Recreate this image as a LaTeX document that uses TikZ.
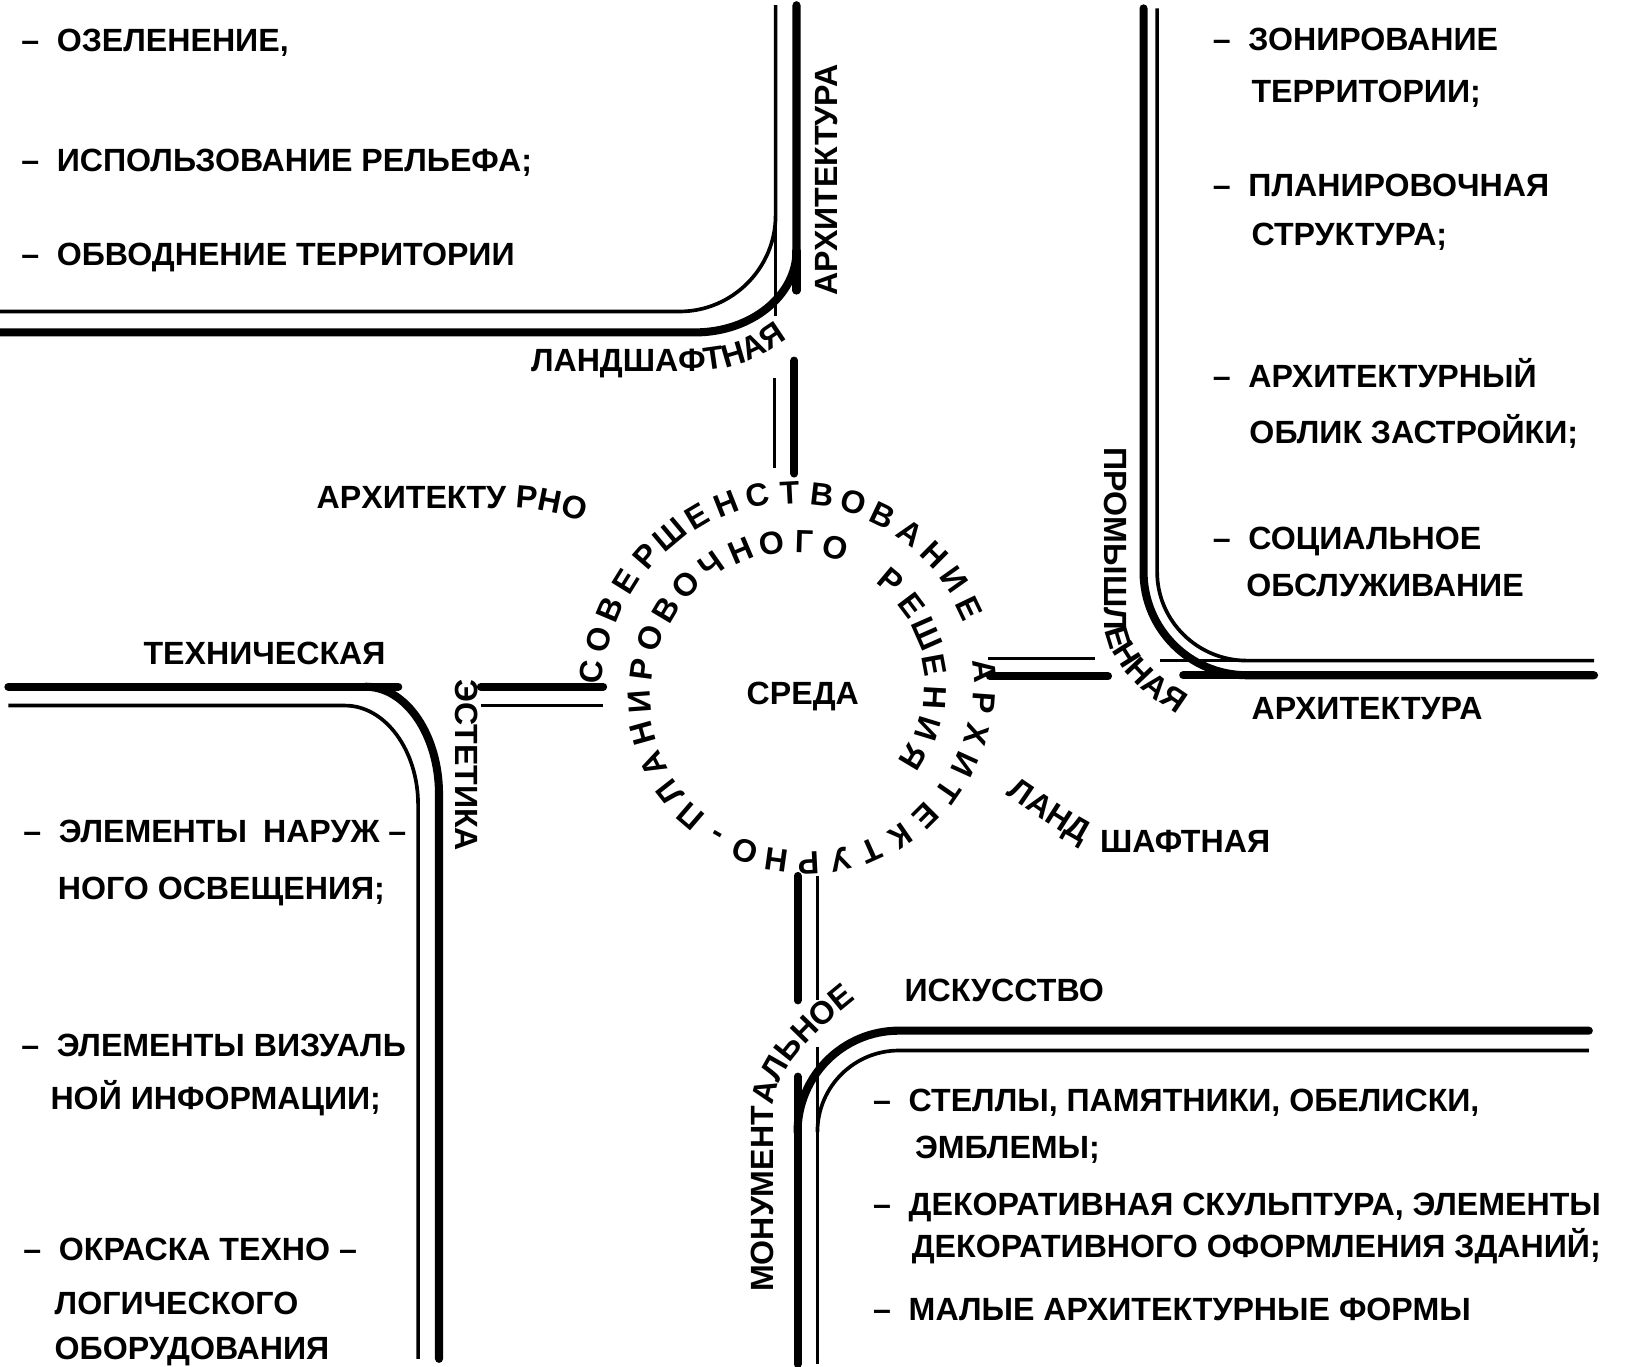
\documentclass[tikz,border=0pt]{standalone}
\usepackage{fontspec}
\setmainfont{Liberation Sans}
\usetikzlibrary{decorations.text}
\newcommand\lblfont{\bfseries\fontsize{17.5}{20}\selectfont}
\newcommand\dsh{–\hspace{0.55em}}
\begin{document}
\begin{tikzpicture}[x=0.02cm,y=-0.02cm,
  lbl/.style={font=\lblfont, inner sep=0pt, anchor=base west},
  rot/.style={font=\lblfont, inner sep=0pt, text height=0.44cm, text depth=0pt},
  thinln/.style={line width=2pt},
  thickln/.style={line width=4.4pt, line cap=round},
  curvtext/.style={decorate, decoration={text along path, text align=left}}]
\useasboundingbox[fill=white] (0,0) rectangle (1568,1307);

% ---------- top-left corner ----------
\draw[thinln] (0,298) -- (650,298) .. controls (700.6,298) and (742,256.6) .. (742,206) -- (742,5);
\draw[thinln] (742,206) -- (742,302);
\draw[thickln] (0,318) -- (665,318) .. controls (718.4,318) and (762,282.9) .. (762,240) -- (762,5);
\draw[thickln] (762,240) -- (762,278);
% stub to circle (top)
\draw[thinln] (741,362) -- (741,448);
\draw[thickln] (760,345) -- (760,453);

% ---------- top-right corner ----------
\draw[thickln] (1094,8) -- (1094,547) .. controls (1094,601.7) and (1138.3,646) .. (1193,646) -- (1525,646);
\draw[thinln] (1107,8) -- (1107,547) .. controls (1107,593.9) and (1145.5,632) .. (1193,632) -- (1525,632);
\draw[thinln] (1110,632) -- (1193,632);
\draw[thickln] (1132,646) -- (1193,646);
% stub to circle (right)
\draw[thinln] (945,630) -- (1048,630);
\draw[thickln] (947,647) -- (1060,647);

% ---------- left corner ----------
\draw[thickln] (8,657) -- (381,657);
\draw[thickln] (350,657) .. controls (388.5,657) and (420,703.4) .. (420,760) -- (420,1300);
\draw[thinln] (8,675) -- (330,675) .. controls (368.5,675) and (400,717.8) .. (400,770) -- (400,1300);
% stub to circle (left)
\draw[thickln] (460,657) -- (577,657);
\draw[thinln] (460,675) -- (577,675);

% ---------- bottom corner ----------
\draw[thickln] (763,838) -- (763,957);
\draw[thinln] (782,838) -- (782,957);
\draw[thickln] (763,1305) -- (763,1030);
\draw[thickln] (763,1083) .. controls (763,1029.4) and (806.4,986) .. (860,986) -- (1520,986);
\draw[thinln] (782,1305) -- (782,1002);
\draw[thinln] (782,1083) .. controls (782,1039.9) and (816.9,1005) .. (860,1005) -- (1520,1005);

% ---------- top-left texts ----------
\node[lbl] (t1) at (20,49) {\dsh ОЗЕЛЕНЕНИЕ,};
\node[lbl] (t2) at (20,164) {\dsh ИСПОЛЬЗОВАНИЕ РЕЛЬЕФА;};
\node[lbl] (t3) at (20,254) {\dsh ОБВОДНЕНИЕ ТЕРРИТОРИИ};

% ---------- top-right texts ----------
\node[lbl] (r1) at (1160,48) {\dsh ЗОНИРОВАНИЕ};
\node[lbl] (r1b) at (1197,98) {ТЕРРИТОРИИ;};
\node[lbl] (r2) at (1160,188) {\dsh ПЛАНИРОВОЧНАЯ};
\node[lbl] (r2b) at (1197,235) {СТРУКТУРА;};
\node[lbl] (r3) at (1160,371) {\dsh АРХИТЕКТУРНЫЙ};
\node[lbl] (r3b) at (1195,424) {ОБЛИК ЗАСТРОЙКИ;};
\node[lbl] (r4) at (1160,526) {\dsh СОЦИАЛЬНОЕ};
\node[lbl] (r4b) at (1192,571) {ОБСЛУЖИВАНИЕ};
\node[lbl] (r5) at (1197,688) {АРХИТЕКТУРА};

% ---------- left texts ----------
\node[lbl] (tech) at (137,636) {ТЕХНИЧЕСКАЯ};
\node[lbl] (l1) at (22,806) {\dsh ЭЛЕМЕНТЫ\enspace НАРУЖ –};
\node[lbl] (l1b) at (55,861) {НОГО ОСВЕЩЕНИЯ;};
\node[lbl] (l2) at (20,1011) {\dsh ЭЛЕМЕНТЫ ВИЗУАЛЬ};
\node[lbl] (l2b) at (48,1061) {НОЙ ИНФОРМАЦИИ;};
\node[lbl] (l3) at (22,1206) {\dsh ОКРАСКА ТЕХНО –};
\node[lbl] (l3b) at (52,1258) {ЛОГИЧЕСКОГО};
\node[lbl] (l3c) at (52,1301) {ОБОРУДОВАНИЯ};

% ---------- bottom-right texts ----------
\node[lbl] (isk) at (865,958) {ИСКУССТВО};
\node[lbl] (b1) at (835,1063) {\dsh СТЕЛЛЫ, ПАМЯТНИКИ, ОБЕЛИСКИ,};
\node[lbl] (b1b) at (875,1108) {ЭМБЛЕМЫ;};
\node[lbl] (b2) at (835,1163) {\dsh ДЕКОРАТИВНАЯ СКУЛЬПТУРА, ЭЛЕМЕНТЫ};
\node[lbl] (b2b) at (872,1203) {ДЕКОРАТИВНОГО ОФОРМЛЕНИЯ ЗДАНИЙ;};
\node[lbl] (b3) at (835,1263) {\dsh МАЛЫЕ АРХИТЕКТУРНЫЕ ФОРМЫ};

% ---------- rotated labels ----------
\node[rot, rotate=90] (arch1) at (790,172) {АРХИТЕКТУРА};
\node[rot, rotate=-90] (est) at (447,732) {ЭСТЕТИКА};
\node[lbl, anchor=base] (sreda) at (768,674) {СРЕДА};

% ---------- curved labels ----------
\path[curvtext, decoration={text={|\lblfont|АРХИТЕКТУ РНО}}]
  (303,486) -- (488,486) .. controls (515,486) and (545,492) .. (585,510);
\path[curvtext, decoration={text={|\lblfont|ЛАНДШАФТНАЯ}}]
  (508,355) -- (660,355) .. controls (705,355) and (740,340) .. (778,302);
\path[curvtext, decoration={text={|\lblfont|ПРОМЫШЛЕННАЯ}}]
  (1057,428) -- (1057,592) .. controls (1057,632) and (1090,668) .. (1170,708);
\path[curvtext, decoration={text={|\lblfont|МОНУМЕНТАЛЬНОЕ}}]
  (740,1236) -- (740,1062) .. controls (740,1028) and (770,990) .. (850,932);
\path[curvtext, decoration={text={|\lblfont|ЛАНД}}]
  (962,760) .. controls (985,775) and (1010,795) .. (1045,812);
\node[lbl] (land2b) at (1052,816) {ШАФТНАЯ};

% ---------- spiral text ----------
\foreach \ch [count=\n from 0] in {С,О,В,Е,Р,Ш,Е,Н,С,Т,В,О,В,А,Н,И,Е,{},А,Р,Х,И,Т,Е,К,Т,У,Р,Н,О,-,П,Л,А,Н,И,Р,О,В,О,Ч,Н,О,Г,О,{},Р,Е,Ш,Е,Н,И,Я}{
  \pgfmathsetmacro\th{(200-10*sqrt(400-4.618*\n))/0.13}
  \pgfmathsetmacro\rr{200-0.13*\th}
  \pgfmathsetmacro\ang{175-\th}
  \node[rot, rotate=\ang-90] (sp\n) at ({765+\rr*cos(\ang)},{660-\rr*sin(\ang)}) {\ch};
}
\end{tikzpicture}
\end{document}
